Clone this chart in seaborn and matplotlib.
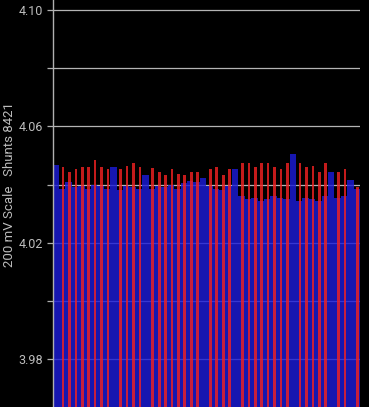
import numpy as np
import pandas as pd
import matplotlib
matplotlib.use("Agg")
import matplotlib.pyplot as plt
from matplotlib.ticker import FixedLocator, FixedFormatter
import seaborn as sns

# ---- data ----
cells = list(range(48))
blue_vals = [4.0467, 4.0385, 4.0410, 4.0390, 4.0395, 4.0385, 4.0400, 4.0395,
             4.0385, 4.0462, 4.0380, 4.0395, 4.0390, 4.0385, 4.0433, 4.0385,
             4.0395, 4.0390, 4.0400, 4.0385, 4.0405, 4.0412, 4.0410, 4.0424,
             4.0395, 4.0385, 4.0380, 4.0395, 4.0454, 4.0360, 4.0350, 4.0355,
             4.0345, 4.0350, 4.0360, 4.0355, 4.0350, 4.0504, 4.0345, 4.0355,
             4.0350, 4.0345, 4.0360, 4.0444, 4.0355, 4.0360, 4.0416, 4.0385]
red_vals = [None, 4.0462, 4.0442, 4.0453, 4.0462, 4.0462, 4.0484, 4.0462,
            4.0453, None, 4.0453, 4.0464, 4.0473, 4.0462, None, 4.0456,
            4.0442, 4.0433, 4.0453, 4.0436, 4.0434, 4.0444, 4.0442, None,
            4.0453, 4.0462, 4.0433, 4.0453, None, 4.0473, 4.0473, 4.0462,
            4.0473, 4.0473, 4.0462, 4.0453, 4.0473, None, 4.0473, 4.0462,
            4.0463, 4.0442, 4.0473, None, 4.0442, 4.0452, None, 4.0393]
tick_values = [3.98, 4.00, 4.02, 4.04, 4.06, 4.08, 4.10]
tick_labels = ["3.98", "", "4.02", "", "4.06", "", "4.10"]
y_label = "200 mV Scale   Shunts 8421"

BLUE = "#1c1cd8"
RED = "#f02222"
TXT = "#bdbdbd"

sns.set_theme(style="dark", rc={
    "axes.facecolor": "black",
    "figure.facecolor": "black",
    "savefig.facecolor": "black",
})
plt.rcParams["font.family"] = ["Roboto", "DejaVu Sans"]

blue_df = pd.DataFrame({"cell": cells, "value": blue_vals})
red_df = pd.DataFrame({"cell": cells, "value": red_vals}).dropna()
red_df["pos"] = red_df["cell"] + 0.15

fig = plt.figure(figsize=(3.69, 4.07), dpi=100)
ax = fig.add_axes([52.5 / 369, 0.0, (360 - 52.5) / 369, 1.0])

sns.barplot(data=blue_df, x="cell", y="value", native_scale=True, width=1.0,
            color=BLUE, saturation=1, errorbar=None, linewidth=0,
            edgecolor="none", alpha=0.82, ax=ax, zorder=2)
sns.barplot(data=red_df, x="pos", y="value", native_scale=True, width=0.42,
            color=RED, saturation=1, errorbar=None, linewidth=0,
            edgecolor="none", alpha=0.82, ax=ax, zorder=3)

ax.set_xlim(-0.5, 47.5)
ax.set_ylim(3.9636, 4.1034)
ax.set_xlabel("")
ax.set_ylabel("")
ax.set_xticks([])

ax.yaxis.set_major_locator(FixedLocator(tick_values))
ax.yaxis.set_major_formatter(FixedFormatter(tick_labels))
ax.tick_params(axis="y", left=True, length=4.5, width=0.9, color="#b0b0b0",
               pad=2, labelsize=9, labelcolor=TXT)

ax.grid(True, axis="y", color="#b4b4b4", linewidth=0.9, zorder=1)
ax.grid(False, axis="x")
ax.set_axisbelow(True)

for side in ["top", "right", "bottom"]:
    ax.spines[side].set_visible(False)
ax.spines["left"].set_color("#b0b0b0")
ax.spines["left"].set_linewidth(1.0)
ax.spines["left"].set_zorder(4)

fig.text(10 / 369, 1 - 185 / 407, y_label, rotation=90, ha="center",
         va="center", color=TXT, fontsize=9.5)

fig.savefig("out.png", dpi=100, facecolor="black")
